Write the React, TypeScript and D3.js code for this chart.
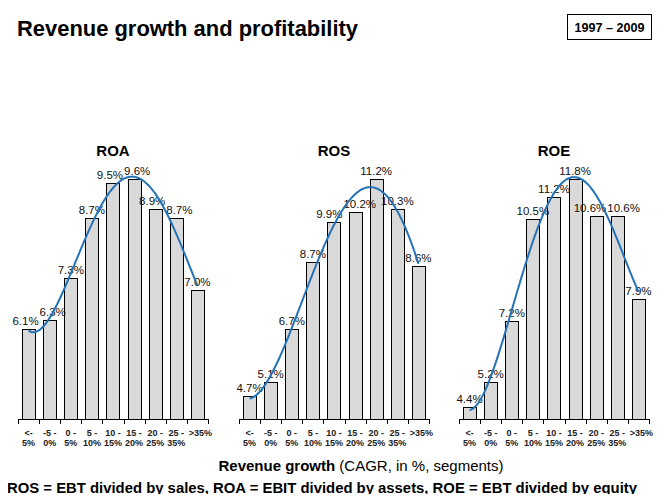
import React, { useEffect, useRef } from 'react';
import * as d3 from 'd3';

const segments = ['<-|5%', '-5 -|0%', '0 -|5%', '5 -|10%', '10 -|15%', '15 -|20%', '20 -|25%', '25 -|35%', '>35%|'];
const roa = [6.1, 6.3, 7.3, 8.7, 9.5, 9.6, 8.9, 8.7, 7.0];
const ros = [4.7, 5.1, 6.7, 8.7, 9.9, 10.2, 11.2, 10.3, 8.6];
const roe = [4.4, 5.2, 7.2, 10.5, 11.2, 11.8, 10.6, 10.6, 7.9];
const panels = [
  { name: 'ROA', values: roa, degree: 4 },
  { name: 'ROS', values: ros, degree: 4 },
  { name: 'ROE', values: roe, degree: 4 },
];

// least squares polynomial trend, like the spreadsheet trendline
const polyFit = (ys: number[], degree: number) => {
  const n = degree + 1;
  const A: number[][] = d3.range(n).map(() => d3.range(n + 1).map(() => 0));
  ys.forEach((y, i) => {
    const x = i + 1;
    for (let r = 0; r < n; r++) {
      for (let c = 0; c < n; c++) A[r][c] += Math.pow(x, r + c);
      A[r][n] += y * Math.pow(x, r);
    }
  });
  for (let p = 0; p < n; p++) {
    let best = p;
    for (let r = p + 1; r < n; r++) if (Math.abs(A[r][p]) > Math.abs(A[best][p])) best = r;
    [A[p], A[best]] = [A[best], A[p]];
    for (let r = 0; r < n; r++) {
      if (r === p) continue;
      const f = A[r][p] / A[p][p];
      for (let c = p; c <= n; c++) A[r][c] -= f * A[p][c];
    }
  }
  const coef = d3.range(n).map(r => A[r][n] / A[r][r]);
  return (x: number) => coef.reduce((s, c, k) => s + c * Math.pow(x, k), 0);
};

export default function App() {
  const svgRef = useRef<SVGSVGElement>(null);

  useEffect(() => {
    if (!svgRef.current) return;
    const width = 669;
    const height = 502;
    const svg = d3.select(svgRef.current)
      .attr('width', width)
      .attr('height', height);
    svg.selectAll('*').remove();

    const font = 'Arial, "Liberation Sans", sans-serif';
    const narrow = '"Liberation Sans Narrow", "Arial Narrow", Arial, sans-serif';

    svg.append('text')
      .attr('x', 17).attr('y', 36)
      .attr('font-family', narrow).attr('font-weight', 'bold').attr('font-size', 22)
      .attr('textLength', 341).attr('lengthAdjust', 'spacingAndGlyphs')
      .text('Revenue growth and profitability');

    svg.append('rect')
      .attr('x', 567.5).attr('y', 14.5).attr('width', 84).attr('height', 25)
      .attr('fill', 'white').attr('stroke', 'black');
    svg.append('text')
      .attr('x', 609.5).attr('y', 32)
      .attr('text-anchor', 'middle')
      .attr('font-family', narrow).attr('font-weight', 'bold').attr('font-size', 13)
      .attr('textLength', 70).attr('lengthAdjust', 'spacingAndGlyphs')
      .text('1997 – 2009');

    const baseline = 419;
    const top = 179;
    const offsets = [18, 239, 459];

    panels.forEach((p, pi) => {
      const x0 = offsets[pi];
      const x = d3.scaleBand<number>()
        .domain(d3.range(segments.length))
        .range([x0, x0 + 190])
        .paddingInner(0.38)
        .paddingOuter(0.19);
      const y = d3.scaleLinear()
        .domain([4, d3.max(p.values) as number])
        .range([baseline, top]);
      const g = svg.append('g');

      g.append('text')
        .attr('x', x0 + 95).attr('y', 156)
        .attr('text-anchor', 'middle')
        .attr('font-family', font).attr('font-weight', 'bold').attr('font-size', 15)
        .text(p.name);

      g.selectAll('rect.bar')
        .data(p.values)
        .enter()
        .append('rect')
        .attr('class', 'bar')
        .attr('x', (d, i) => Math.round(x(i) as number) + 0.5)
        .attr('y', d => Math.round(y(d)) + 0.5)
        .attr('width', Math.round(x.bandwidth()))
        .attr('height', d => baseline - Math.round(y(d)))
        .attr('fill', '#d9d9d9')
        .attr('stroke', 'black')
        .attr('stroke-width', 1);

      // axis
      const step = x.step();
      g.append('line')
        .attr('x1', x0).attr('x2', x0 + 190)
        .attr('y1', baseline + 0.5).attr('y2', baseline + 0.5)
        .attr('stroke', 'black');
      g.selectAll('line.tick')
        .data(d3.range(segments.length + 1))
        .enter()
        .append('line')
        .attr('class', 'tick')
        .attr('x1', i => Math.round(x0 + i * step) + 0.5)
        .attr('x2', i => Math.round(x0 + i * step) + 0.5)
        .attr('y1', baseline).attr('y2', baseline + 5)
        .attr('stroke', 'black');

      const lbl = g.selectAll('text.seg')
        .data(segments)
        .enter()
        .append('text')
        .attr('class', 'seg')
        .attr('text-anchor', 'middle')
        .attr('font-family', font).attr('font-weight', 'bold').attr('font-size', 9)
        .attr('fill', '#222');
      lbl.each(function (d, i) {
        const parts = d.split('|');
        const cx = (x(i) as number) + x.bandwidth() / 2;
        parts.forEach((t, k) => {
          d3.select(this).append('tspan')
            .attr('x', cx + (i === segments.length - 1 ? 3 : 0))
            .attr('y', 436 + k * 10)
            .text(t);
        });
      });

      // trend line
      const f = polyFit(p.values, p.degree);
      const xs = d3.range(1, segments.length + 0.001, 0.05);
      const line = d3.line<number>()
        .x(v => (x(0) as number) + x.bandwidth() / 2 + (v - 1) * step)
        .y(v => y(f(v)))
        .curve(d3.curveMonotoneX);

      const vals = g.selectAll<SVGTextElement, number>('text.val')
        .data(p.values)
        .enter()
        .append('text')
        .attr('class', 'val')
        .attr('x', (d, i) => (x(i) as number) + x.bandwidth() / 2)
        .attr('y', d => y(d) - 4)
        .attr('text-anchor', 'middle')
        .attr('font-family', font).attr('font-size', 11.5)
        .attr('fill', '#111')
        .text(d => `${d.toFixed(1)}%`);

      // push neighbouring labels on the same level apart
      const nodes = vals.nodes();
      const cxs = p.values.map((d, i) => (x(i) as number) + x.bandwidth() / 2);
      const ws = nodes.map(n => n.getComputedTextLength());
      for (let i = 0; i < nodes.length - 1; i++) {
        const dy = Math.abs(y(p.values[i]) - y(p.values[i + 1]));
        const overlap = (cxs[i] + ws[i] / 2) - (cxs[i + 1] - ws[i + 1] / 2) + 1;
        if (dy < 12 && overlap > 0) {
          cxs[i] -= overlap / 2;
          cxs[i + 1] += overlap / 2;
        }
      }
      vals.attr('x', (d, i) => cxs[i]);

      g.append('path')
        .datum(xs)
        .attr('fill', 'none')
        .attr('stroke', '#2473b6')
        .attr('stroke-width', 2)
        .attr('d', line);
    });

    const cap = svg.append('text')
      .attr('x', 361).attr('y', 471)
      .attr('text-anchor', 'middle')
      .attr('font-family', font).attr('font-size', 15);
    cap.append('tspan').attr('font-weight', 'bold').text('Revenue growth');
    cap.append('tspan').text(' (CAGR, in %, segments)');

    svg.append('text')
      .attr('x', 7).attr('y', 493)
      .attr('font-family', font).attr('font-weight', 'bold').attr('font-size', 15)
      .attr('textLength', 630).attr('lengthAdjust', 'spacingAndGlyphs')
      .text('ROS = EBT divided by sales, ROA = EBIT divided by assets, ROE = EBT divided by equity');
  }, []);

  return (
    <div style={{ margin: -8 }}>
      <svg ref={svgRef} style={{ display: 'block' }} />
    </div>
  );
}
